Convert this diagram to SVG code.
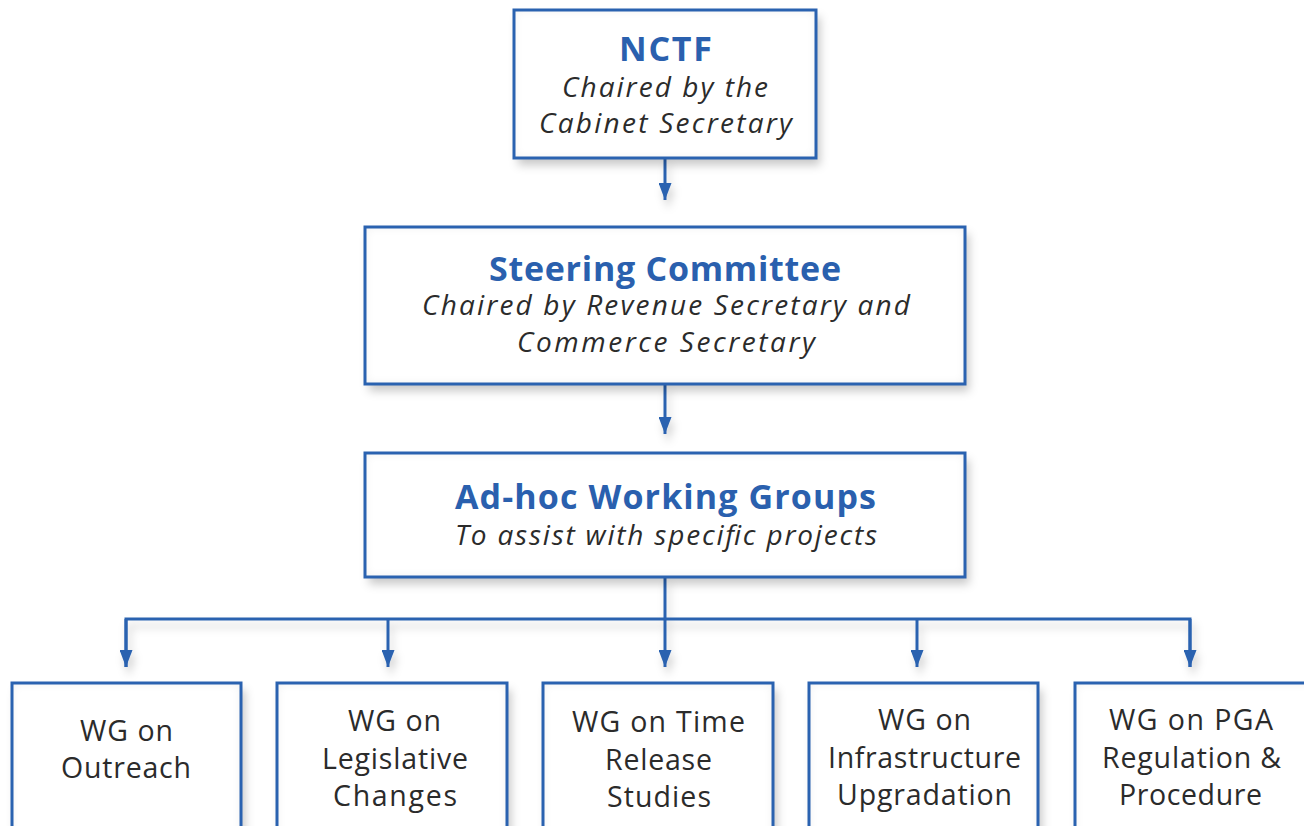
<svg xmlns="http://www.w3.org/2000/svg" width="1304" height="826" viewBox="0 0 1304 826">
  <style>
    .card { fill: #ffffff; filter: url(#cardShade); }
    .edge { fill: none; stroke: #2a62b0; stroke-width: 3; }
    .title { font-family: "Open Sans", "Liberation Sans", sans-serif; font-weight: 700; font-size: 34px; fill: #2a60ae; text-anchor: middle; }
    .sub { font-family: "Open Sans", "Liberation Sans", sans-serif; font-style: italic; font-size: 28px; fill: #2b2b2b; text-anchor: middle; }
    .wg { font-family: "Open Sans", "Liberation Sans", sans-serif; font-size: 28.5px; fill: #2b2b2b; text-anchor: middle; }
    .link { fill: none; stroke: #2a62b0; stroke-width: 3; }
  </style>
  <defs>
    <filter id="cardShade" x="-10%" y="-15%" width="125%" height="140%">
      <feGaussianBlur in="SourceAlpha" stdDeviation="5" result="blur"/>
      <feOffset in="blur" dx="4" dy="7" result="offBlur"/>
      <feFlood flood-color="#000" flood-opacity="0.22"/>
      <feComposite in2="offBlur" operator="in" result="drop"/>
      <feComponentTransfer in="SourceAlpha" result="inverse">
        <feFuncA type="table" tableValues="1 0"/>
      </feComponentTransfer>
      <feGaussianBlur in="inverse" stdDeviation="5" result="inverseBlur"/>
      <feFlood flood-color="#000" flood-opacity="0.16"/>
      <feComposite in2="inverseBlur" operator="in" result="innerTint"/>
      <feComposite in="innerTint" in2="SourceAlpha" operator="in" result="inset"/>
      <feMerge>
        <feMergeNode in="drop"/>
        <feMergeNode in="SourceGraphic"/>
        <feMergeNode in="inset"/>
      </feMerge>
    </filter>
    <filter id="linkShade" x="-5%" y="-50%" width="110%" height="200%">
      <feGaussianBlur in="SourceAlpha" stdDeviation="4" result="blur"/>
      <feOffset in="blur" dx="3" dy="7" result="offBlur"/>
      <feFlood flood-color="#000" flood-opacity="0.18"/>
      <feComposite in2="offBlur" operator="in" result="drop"/>
      <feMerge>
        <feMergeNode in="drop"/>
        <feMergeNode in="SourceGraphic"/>
      </feMerge>
    </filter>
    <marker id="head" markerUnits="userSpaceOnUse" markerWidth="17" markerHeight="13" refX="17" refY="6.5" orient="auto" viewBox="0 0 17 13">
      <path d="M0,0 L17,6.5 L0,13 z" fill="#2a62b0"/>
    </marker>
  </defs>

  <!-- connectors -->
  <g id="connectors" filter="url(#linkShade)">
    <path class="link" d="M665,158 V200" marker-end="url(#head)"/>
    <path class="link" d="M665,384 V434" marker-end="url(#head)"/>
    <path class="link" d="M665,577 V667" marker-end="url(#head)"/>
    <path class="link" d="M126,667 V619 H1190 V667" />
    <path class="link" d="M126,619 V667" marker-end="url(#head)"/>
    <path class="link" d="M388,619 V667" marker-end="url(#head)"/>
    <path class="link" d="M917,619 V667" marker-end="url(#head)"/>
    <path class="link" d="M1190,619 V667" marker-end="url(#head)"/>
  </g>

  <!-- NCTF -->
  <g id="nctf">
    <rect class="card" x="514" y="10" width="302" height="148"/>
    <rect class="edge" x="514" y="10" width="302" height="148"/>
    <text class="title" x="665.5" y="61" textLength="93" lengthAdjust="spacing">NCTF</text>
    <text class="sub" x="665" y="97" textLength="206" lengthAdjust="spacing">Chaired by the</text>
    <text class="sub" x="665.5" y="133" textLength="253" lengthAdjust="spacing">Cabinet Secretary</text>
  </g>

  <!-- Steering Committee -->
  <g id="steering">
    <rect class="card" x="365" y="227" width="600" height="157"/>
    <rect class="edge" x="365" y="227" width="600" height="157"/>
    <text class="title" x="665" y="281" textLength="352" lengthAdjust="spacing">Steering Committee</text>
    <text class="sub" x="666" y="315" textLength="488" lengthAdjust="spacing">Chaired by Revenue Secretary and</text>
    <text class="sub" x="666" y="352" textLength="298" lengthAdjust="spacing">Commerce Secretary</text>
  </g>

  <!-- Ad-hoc Working Groups -->
  <g id="adhoc">
    <rect class="card" x="365" y="453" width="600" height="124"/>
    <rect class="edge" x="365" y="453" width="600" height="124"/>
    <text class="title" x="665.5" y="509" textLength="421" lengthAdjust="spacing">Ad-hoc Working Groups</text>
    <text class="sub" x="666" y="545" textLength="422" lengthAdjust="spacing">To assist with specific projects</text>
  </g>

  <!-- working groups -->
  <g id="wg-outreach">
    <rect class="card" x="12" y="683" width="229" height="200"/>
    <rect class="edge" x="12" y="683" width="229" height="200"/>
    <text class="wg" x="126.5" y="741" textLength="93" lengthAdjust="spacing">WG on</text>
    <text class="wg" x="126" y="778" textLength="130" lengthAdjust="spacing">Outreach</text>
  </g>
  <g id="wg-legislative">
    <rect class="card" x="277" y="683" width="230" height="200"/>
    <rect class="edge" x="277" y="683" width="230" height="200"/>
    <text class="wg" x="394.5" y="731" textLength="93" lengthAdjust="spacing">WG on</text>
    <text class="wg" x="395" y="769" textLength="146" lengthAdjust="spacing">Legislative</text>
    <text class="wg" x="395" y="806" textLength="124" lengthAdjust="spacing">Changes</text>
  </g>
  <g id="wg-time-release">
    <rect class="card" x="543" y="683" width="230" height="200"/>
    <rect class="edge" x="543" y="683" width="230" height="200"/>
    <text class="wg" x="658.5" y="732" textLength="173" lengthAdjust="spacing">WG on Time</text>
    <text class="wg" x="658.5" y="770" textLength="107" lengthAdjust="spacing">Release</text>
    <text class="wg" x="659" y="807" textLength="104" lengthAdjust="spacing">Studies</text>
  </g>
  <g id="wg-infrastructure">
    <rect class="card" x="809" y="683" width="229" height="200"/>
    <rect class="edge" x="809" y="683" width="229" height="200"/>
    <text class="wg" x="924.5" y="730" textLength="93" lengthAdjust="spacing">WG on</text>
    <text class="wg" x="924.5" y="768" textLength="193" lengthAdjust="spacing">Infrastructure</text>
    <text class="wg" x="924.5" y="805" textLength="175" lengthAdjust="spacing">Upgradation</text>
  </g>
  <g id="wg-pga">
    <rect class="card" x="1075" y="683" width="240" height="200"/>
    <rect class="edge" x="1075" y="683" width="240" height="200"/>
    <text class="wg" x="1191" y="730" textLength="164" lengthAdjust="spacing">WG on PGA</text>
    <text class="wg" x="1191.5" y="768" textLength="179" lengthAdjust="spacing">Regulation &amp;</text>
    <text class="wg" x="1190.5" y="805" textLength="143" lengthAdjust="spacing">Procedure</text>
  </g>
</svg>
